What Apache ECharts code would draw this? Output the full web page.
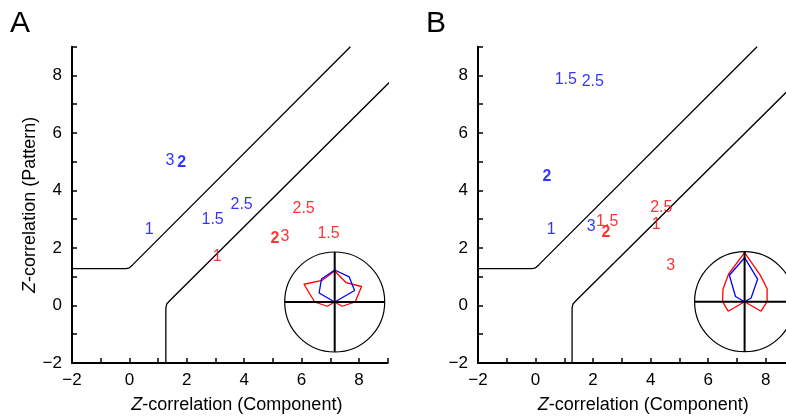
<!DOCTYPE html>
<html>
<head>
<meta charset="utf-8">
<script src="https://cdn.jsdelivr.net/npm/echarts@6/dist/echarts.min.js"></script>
<style>
  html, body { margin: 0; padding: 0; background: #fff; }
  #chart { width: 786px; height: 418px; }
</style>
</head>
<body>
<div id="chart"></div>
<script>
// boundary curves (same in both panels)
var upperBoundary = [[-2, 1.28], [-0.12, 1.28], [0.0, 1.31], [0.12, 1.42], [7.7, 9.0]]
var lowerBoundary = [[1.27, -2], [1.27, -0.08], [1.3, 0.05], [1.42, 0.18], [9.2, 7.9]]

// labelled points: [x, y, label]
var blueA = [[0.69, 2.64, '1'], [1.41, 5.05, '3'], [1.82, 4.97, '2'], [2.9, 2.99, '1.5'], [3.91, 3.51, '2.5']]
var redA = [[3.06, 1.71, '1'], [5.07, 2.32, '2'], [5.42, 2.38, '3'], [6.07, 3.38, '2.5'], [6.94, 2.5, '1.5']]
var blueB = [[1.05, 7.84, '1.5'], [1.99, 7.77, '2.5'], [0.4, 4.47, '2'], [0.54, 2.63, '1'], [1.93, 2.76, '3']]
var redB = [[2.49, 2.93, '1.5'], [2.45, 2.54, '2'], [4.37, 3.42, '2.5'], [4.19, 2.83, '1'], [4.7, 1.38, '3']]

// inset tuning curves: radius per direction (fraction of circle)
var directions = [0, 30, 60, 90, 120, 150, 180, 210, 240, 270, 300, 330]
var redTuningA = [0.41, 0.62, 0.45, 0.62, 0.5, 0.71, 0.4, 0.17, 0, 0, 0, 0.17]
var blueTuningA = [0, 0.46, 0.58, 0.64, 0.53, 0.36, 0, 0, 0, 0, 0, 0]
var redTuningB = [0.45, 0.52, 0.62, 0.98, 0.64, 0.5, 0.44, 0.38, 0, 0, 0, 0.38]
var blueTuningB = [0, 0.15, 0.52, 0.88, 0.61, 0.21, 0, 0, 0, 0, 0, 0]

var xTicks = { min: -2, max: 9, interval: 1 }
var yTicks = { min: -2, max: 9, interval: 1 }

var FONT = 'Liberation Sans, Arial, Helvetica, sans-serif'
var BLUE = '#0000ff'
var RED = '#ff0000'

var chart = echarts.init(document.getElementById('chart'))

function tickLabel(v) {
  if (v % 2 !== 0) return ''
  return v < 0 ? '\u2212' + Math.abs(v) : String(v)
}

function xAxis(gridIndex) {
  return {
    gridIndex: gridIndex,
    type: 'value',
    min: xTicks.min,
    max: xTicks.max,
    interval: xTicks.interval,
    name: '{i|Z}-correlation (Component)',
    nameLocation: 'middle',
    nameGap: 33,
    nameTextStyle: {
      fontFamily: FONT, fontSize: 18, color: '#000', padding: [0, 0, 0, 14],
      rich: { i: { fontFamily: FONT, fontSize: 18, fontStyle: 'italic', color: '#000' } }
    },
    axisLine: { show: true, onZero: false, lineStyle: { color: '#000', width: 2 } },
    axisTick: { show: true, inside: true, length: 5, lineStyle: { color: '#000', width: 1.5 } },
    axisLabel: { formatter: tickLabel, fontFamily: FONT, fontSize: 17, color: '#000', margin: 9 },
    splitLine: { show: false }
  }
}

function yAxis(gridIndex, withName) {
  return {
    gridIndex: gridIndex,
    type: 'value',
    min: yTicks.min,
    max: yTicks.max,
    interval: yTicks.interval,
    name: withName ? '{i|Z}-correlation (Pattern)' : '',
    nameLocation: 'middle',
    nameGap: 31,
    nameTextStyle: {
      fontFamily: FONT, fontSize: 18, color: '#000',
      rich: { i: { fontFamily: FONT, fontSize: 18, fontStyle: 'italic', color: '#000' } }
    },
    axisLine: { show: true, onZero: false, lineStyle: { color: '#000', width: 2 } },
    axisTick: { show: true, inside: true, length: 5, lineStyle: { color: '#000', width: 1.5 } },
    axisLabel: { formatter: tickLabel, fontFamily: FONT, fontSize: 17, color: '#000', margin: 10 },
    splitLine: { show: false }
  }
}

function boundary(data, gridIndex) {
  return {
    type: 'line',
    xAxisIndex: gridIndex,
    yAxisIndex: gridIndex,
    data: data,
    symbol: 'none',
    silent: true,
    lineStyle: { color: '#000', width: 1.3 }
  }
}

function labels(data, gridIndex, color) {
  return {
    type: 'scatter',
    xAxisIndex: gridIndex,
    yAxisIndex: gridIndex,
    data: data,
    symbolSize: 0,
    z: 5,
    label: {
      show: true,
      position: 'inside',
      formatter: function (p) {
        return p.value[2] === '2' ? '{b|2}' : '{n|' + p.value[2] + '}'
      },
      rich: {
        n: { fontFamily: FONT, fontSize: 16, color: color },
        b: { fontFamily: FONT, fontSize: 16, fontWeight: 'bold', color: color }
      }
    }
  }
}

function tuning(radii, polarIndex, color) {
  var pts = directions.map(function (a, i) { return [radii[i], a] })
  pts.push(pts[0])
  return {
    type: 'line',
    coordinateSystem: 'polar',
    polarIndex: polarIndex,
    data: pts,
    symbol: 'none',
    silent: true,
    lineStyle: { color: color, width: 1.3 }
  }
}

function cross(polarIndex, from, to) {
  return {
    type: 'line',
    coordinateSystem: 'polar',
    polarIndex: polarIndex,
    data: [[1, from], [1, to]],
    symbol: 'none',
    silent: true,
    z: 4,
    lineStyle: { color: '#000', width: 2 }
  }
}

function angleAxis(polarIndex) {
  return {
    polarIndex: polarIndex,
    type: 'value', min: 0, max: 360, startAngle: 0, clockwise: false,
    axisLine: { show: true, lineStyle: { color: '#000', width: 1.2 } },
    axisTick: { show: false }, axisLabel: { show: false }, splitLine: { show: false }
  }
}

function radiusAxis(polarIndex) {
  return {
    polarIndex: polarIndex,
    type: 'value', min: 0, max: 1,
    axisLine: { show: false }, axisTick: { show: false },
    axisLabel: { show: false }, splitLine: { show: false }
  }
}

chart.setOption({
  animation: false,
  title: [
    { text: 'A', left: 10, top: 9, padding: 0, textStyle: { fontFamily: FONT, fontSize: 30, fontWeight: 'normal', color: '#000' } },
    { text: 'B', left: 426, top: 9, padding: 0, textStyle: { fontFamily: FONT, fontSize: 30, fontWeight: 'normal', color: '#000' } }
  ],
  grid: [
    { left: 72, top: 46.7, width: 315.7, height: 316.3, outerBoundsMode: 'none' },
    { left: 478, top: 46.7, width: 316.5, height: 316.3, outerBoundsMode: 'none' }
  ],
  xAxis: [xAxis(0), xAxis(1)],
  yAxis: [yAxis(0, true), yAxis(1, false)],
  polar: [
    { center: [334.7, 302], radius: 50 },
    { center: [744.6, 301.7], radius: 50 }
  ],
  angleAxis: [angleAxis(0), angleAxis(1)],
  radiusAxis: [radiusAxis(0), radiusAxis(1)],
  series: [
    boundary(upperBoundary, 0),
    boundary(lowerBoundary, 0),
    boundary(upperBoundary, 1),
    boundary(lowerBoundary, 1),
    labels(blueA, 0, BLUE),
    labels(redA, 0, RED),
    labels(blueB, 1, BLUE),
    labels(redB, 1, RED),
    tuning(redTuningA, 0, RED),
    tuning(blueTuningA, 0, BLUE),
    tuning(redTuningB, 1, RED),
    tuning(blueTuningB, 1, BLUE),
    cross(0, 0, 180),
    cross(0, 90, 270),
    cross(1, 0, 180),
    cross(1, 90, 270)
  ]
})
</script>
</body>
</html>
